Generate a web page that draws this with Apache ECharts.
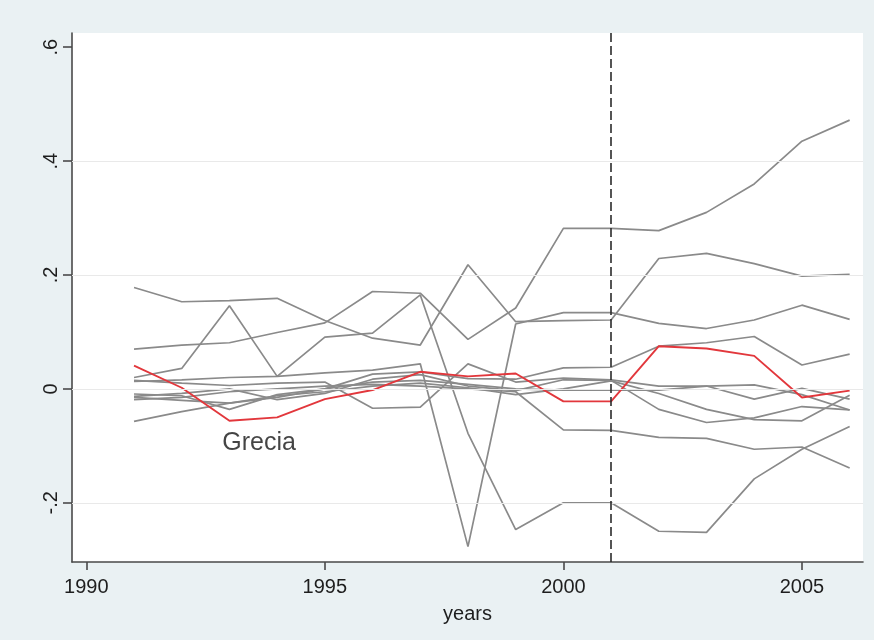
<!DOCTYPE html>
<html>
<head>
<meta charset="utf-8">
<script src="https://cdn.jsdelivr.net/npm/echarts@6/dist/echarts.min.js"></script>
<style>
  html, body { margin: 0; padding: 0; background: #EAF1F3; }
  #chart { width: 874px; height: 640px; }
</style>
</head>
<body>
<div id="chart"></div>
<script>
// Years on the horizontal axis
const years = [1991, 1992, 1993, 1994, 1995, 1996, 1997, 1998, 1999, 2000, 2001, 2002, 2003, 2004, 2005, 2006];

// Gray country series
const countryA = [0.178, 0.153, 0.155, 0.159, 0.120, 0.089, 0.077, 0.218, 0.118, 0.120, 0.121, 0.229, 0.238, 0.220, 0.198, 0.201];
const countryB = [0.070, 0.077, 0.081, 0.099, 0.116, 0.171, 0.168, 0.087, 0.142, 0.282, 0.282, 0.278, 0.310, 0.360, 0.435, 0.472];
const countryC = [0.020, 0.036, 0.146, 0.022, 0.091, 0.098, 0.165, -0.078, -0.247, -0.200, -0.200, -0.250, -0.252, -0.158, -0.106, -0.066];
const countryD = [0.013, 0.016, 0.020, 0.022, 0.028, 0.033, 0.044, -0.277, 0.114, 0.134, 0.134, 0.115, 0.106, 0.121, 0.147, 0.122];
const countryE = [-0.009, -0.012, -0.036, -0.010, 0.000, 0.026, 0.030, 0.018, 0.017, 0.037, 0.038, 0.075, 0.081, 0.092, 0.042, 0.061];
const countryF = [0.015, 0.010, 0.006, 0.010, 0.012, -0.034, -0.032, 0.044, 0.012, 0.019, 0.016, 0.005, 0.005, -0.018, 0.001, -0.018];
const countryG = [-0.013, -0.008, 0.000, -0.019, -0.008, 0.017, 0.025, 0.005, -0.003, 0.016, 0.015, -0.036, -0.059, -0.051, -0.031, -0.037];
const countryH = [-0.057, -0.040, -0.025, -0.012, -0.005, 0.005, 0.010, 0.002, -0.010, 0.000, 0.014, -0.008, -0.036, -0.054, -0.056, -0.011];
const countryI = [-0.019, -0.015, -0.005, 0.000, 0.005, 0.008, 0.005, 0.000, -0.005, -0.072, -0.073, -0.085, -0.087, -0.106, -0.102, -0.139];
const countryJ = [-0.015, -0.020, -0.025, -0.015, 0.000, 0.012, 0.015, 0.008, 0.000, -0.002, -0.002, -0.002, 0.005, 0.007, -0.010, -0.037];

// Highlighted series: Greece
const grecia = [0.041, 0.002, -0.056, -0.050, -0.018, -0.002, 0.030, 0.022, 0.027, -0.022, -0.022, 0.075, 0.071, 0.058, -0.015, -0.003];

// Axis ticks and grid lines
const xTicks = [1990, 1995, 2000, 2005];
const yTicks = [-0.2, 0, 0.2, 0.4, 0.6];
const yGridLines = [-0.2, 0, 0.2, 0.4];
const eventYear = 2001;
const highlightLabel = 'Grecia';

const grayCountries = [countryA, countryB, countryC, countryD, countryE, countryF, countryG, countryH, countryI, countryJ];

const toPoints = vals => vals.map((v, i) => [years[i], v]);

const FONT = '"Liberation Sans", Arial, sans-serif';
const AXIS_COLOR = '#4a4a4a';

// Stata-style tick labels: ".2", "-.2", "0"
function fmtY(v) {
  if (Math.abs(v) < 1e-9) return '0';
  const s = String(Math.abs(Math.round(v * 10) / 10)).replace(/^0/, '');
  return (v < 0 ? '-' : '') + s;
}

const series = [];

// Horizontal grid lines, drawn through the y axis
series.push({
  type: 'line',
  data: [],
  silent: true,
  markLine: {
    silent: true,
    symbol: 'none',
    label: { show: false },
    lineStyle: { color: '#E9E9E9', width: 1.2, type: 'solid' },
    data: yGridLines.map(v => ({ yAxis: v }))
  },
  z: 1
});

grayCountries.forEach((vals, k) => {
  series.push({
    name: 'country' + k,
    type: 'line',
    data: toPoints(vals),
    symbol: 'none',
    lineStyle: { color: '#8A8A8A', width: 1.7 },
    z: 3
  });
});

series.push({
  name: highlightLabel,
  type: 'line',
  data: toPoints(grecia),
  symbol: 'none',
  lineStyle: { color: '#E2373C', width: 1.9 },
  z: 4,
  markLine: {
    silent: true,
    symbol: 'none',
    label: { show: false },
    lineStyle: { color: '#2b2b2b', width: 1.6, type: [9, 4] },
    data: [{ xAxis: eventYear }]
  }
});

// Text label for the highlighted series
series.push({
  type: 'scatter',
  data: [[1992.85, -0.096]],
  symbolSize: 0,
  silent: true,
  label: {
    show: true,
    position: 'right',
    distance: 0,
    formatter: highlightLabel,
    color: '#151515',
    fontSize: 25,
    fontFamily: FONT
  },
  z: 5
});

const chart = echarts.init(document.getElementById('chart'), null, { renderer: 'canvas' });
chart.setOption({
  backgroundColor: '#EAF1F3',
  animation: false,
  grid: {
    left: 72, right: 11, top: 33, bottom: 78,
    show: true, backgroundColor: '#FFFFFF', borderWidth: 0
  },
  xAxis: {
    type: 'value',
    min: 1989.7,
    max: 2006.28,
    name: 'years',
    nameLocation: 'middle',
    nameGap: 42,
    nameTextStyle: { color: '#1e1e1e', fontSize: 20, fontFamily: FONT },
    axisLine: { show: true, onZero: false, lineStyle: { color: AXIS_COLOR, width: 1.6 } },
    axisTick: { show: true, length: 8, customValues: xTicks, lineStyle: { color: AXIS_COLOR, width: 1.6 } },
    axisLabel: { customValues: xTicks, margin: 15, color: '#1e1e1e', fontSize: 20, fontFamily: FONT,
      formatter: v => String(v) },
    splitLine: { show: false }
  },
  yAxis: {
    type: 'value',
    min: -0.304,
    max: 0.625,
    axisLine: { show: true, onZero: false, lineStyle: { color: AXIS_COLOR, width: 1.6 } },
    axisTick: { show: true, length: 9, customValues: yTicks, lineStyle: { color: AXIS_COLOR, width: 1.6 } },
    axisLabel: { customValues: yTicks, rotate: 90, margin: 11, color: '#1e1e1e', fontSize: 20, fontFamily: FONT,
      formatter: fmtY },
    splitLine: { show: false }
  },
  series: series
});
</script>
</body>
</html>
